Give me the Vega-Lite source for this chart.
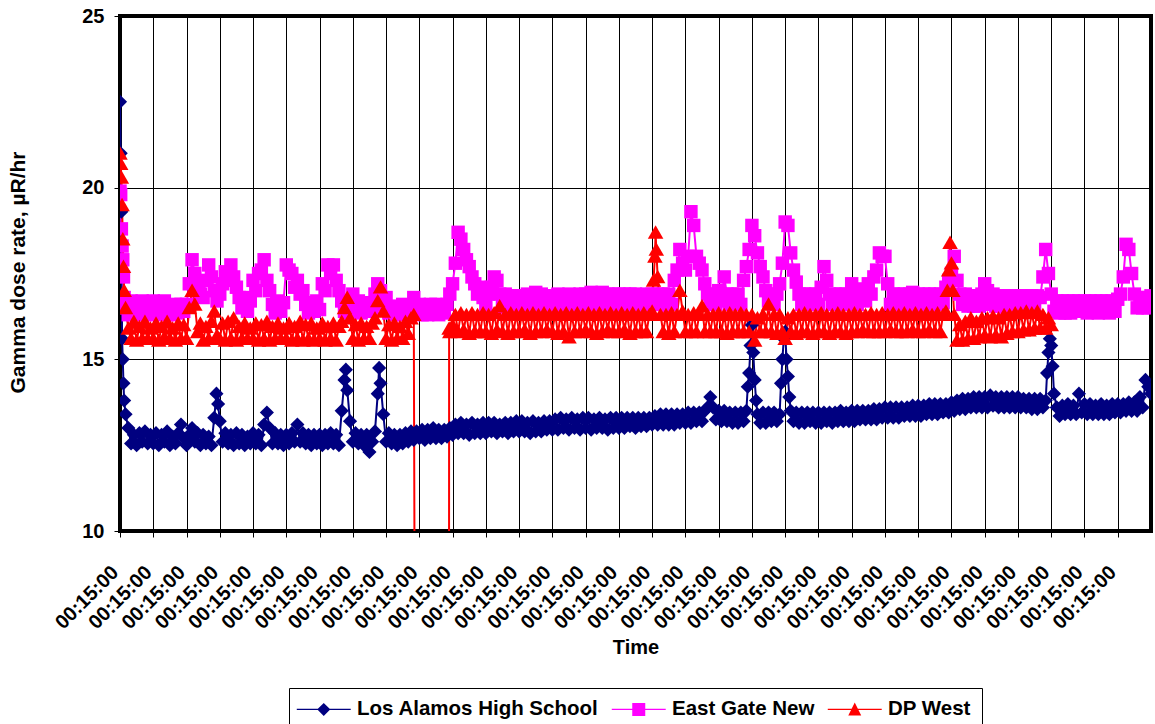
{
"$schema":"https://vega.github.io/schema/vega-lite/v6.json",
"width":1031,"height":515,"autosize":"none",
"padding":{"left":120,"top":16,"right":4,"bottom":193},
"background":"white",
"config":{"font":"Liberation Sans","view":{"stroke":"black","strokeWidth":4},
"axis":{"labelFont":"Liberation Sans","titleFont":"Liberation Sans","labelColor":"black","titleColor":"black","labelFontWeight":"bold","titleFontWeight":"bold","tickColor":"black","gridColor":"black","gridOpacity":1,"gridWidth":1,"domain":false}},
"data":{"values":[
{"h":0,"a":22.5,"b":19.9,"c":21.0},{"h":0.5,"a":21.0,"b":19.8,"c":20.7},{"h":1,"a":19.3,"b":18.8,"c":20.3},{"h":1.5,"a":15.6,"b":18.3,"c":19.5},{"h":2,"a":15.0,"b":17.9,"c":18.5},{"h":2.5,"a":14.3,"b":17.4,"c":17.7},{"h":3,"a":13.8,"b":16.8,"c":17.0},{"h":4,"a":13.4,"b":16.5,"c":16.5},{"h":6,"a":13.0,"b":16.3,"c":15.9},{"h":8,"a":12.55,"b":16.7,"c":15.6},{"h":10,"a":12.8,"b":16.3,"c":16.1},{"h":12,"a":12.5,"b":16.6,"c":15.55},{"h":14,"a":12.85,"b":16.4,"c":15.95},{"h":16,"a":12.6,"b":16.7,"c":15.6},{"h":18,"a":12.9,"b":16.3,"c":16.1},{"h":20,"a":12.55,"b":16.6,"c":15.6},{"h":22,"a":12.8,"b":16.35,"c":15.9},
{"h":24,"a":12.55,"b":16.7,"c":15.6},{"h":26,"a":12.85,"b":16.3,"c":16.05},{"h":28,"a":12.5,"b":16.65,"c":15.55},{"h":30,"a":12.8,"b":16.35,"c":15.95},{"h":32,"a":12.6,"b":16.7,"c":15.65},{"h":34,"a":12.9,"b":16.3,"c":16.1},{"h":36,"a":12.5,"b":16.55,"c":15.6},{"h":38,"a":12.75,"b":16.3,"c":15.9},{"h":40,"a":12.55,"b":16.6,"c":15.55},{"h":42,"a":12.85,"b":16.35,"c":16.05},{"h":44,"a":13.1,"b":16.6,"c":15.6},{"h":46,"a":12.7,"b":16.4,"c":16.0},
{"h":48,"a":12.5,"b":16.6,"c":15.6},{"h":50,"a":12.8,"b":17.2,"c":16.5},{"h":52,"a":13.0,"b":17.9,"c":17.0},{"h":54,"a":12.6,"b":17.5,"c":16.6},{"h":56,"a":12.85,"b":17.2,"c":15.8},{"h":58,"a":12.5,"b":16.9,"c":16.05},{"h":60,"a":12.8,"b":16.8,"c":15.55},{"h":62,"a":12.55,"b":17.3,"c":15.95},{"h":64,"a":12.75,"b":17.75,"c":15.6},{"h":66,"a":12.5,"b":17.4,"c":16.1},{"h":68,"a":13.3,"b":17.0,"c":16.4},{"h":69.6,"a":14.0},{"h":70,"b":16.7,"c":15.7},{"h":70.8,"a":13.7},
{"h":72,"a":13.2,"b":16.9,"c":15.6},{"h":74,"a":12.6,"b":17.2,"c":16.05},{"h":76,"a":12.85,"b":17.55,"c":15.55},{"h":78,"a":12.55,"b":17.3,"c":16.1},{"h":80,"a":12.8,"b":17.75,"c":15.6},{"h":82,"a":12.5,"b":17.4,"c":16.2},{"h":84,"a":12.85,"b":17.1,"c":15.55},{"h":86,"a":12.55,"b":16.8,"c":15.95},{"h":88,"a":12.8,"b":16.5,"c":15.6},{"h":90,"a":12.5,"b":16.8,"c":16.05},{"h":92,"a":12.75,"b":16.4,"c":15.6},{"h":94,"a":12.55,"b":16.7,"c":15.9},
{"h":96,"a":12.85,"b":17.3,"c":15.6},{"h":98,"a":12.55,"b":17.0,"c":16.05},{"h":100,"a":12.8,"b":17.5,"c":15.55},{"h":102,"a":12.5,"b":17.6,"c":16.0},{"h":104,"a":13.1,"b":17.9,"c":15.6},{"h":106,"a":13.45,"b":17.3,"c":16.1},{"h":108,"a":13.0,"b":17.0,"c":15.55},{"h":110,"a":12.55,"b":16.6,"c":15.95},{"h":112,"a":12.85,"b":16.35,"c":15.6},{"h":114,"a":12.55,"b":16.7,"c":16.05},{"h":116,"a":12.8,"b":16.4,"c":15.6},{"h":118,"a":12.5,"b":16.65,"c":15.9},
{"h":120,"a":12.8,"b":17.75,"c":15.6},{"h":122,"a":12.55,"b":17.6,"c":16.05},{"h":124,"a":12.85,"b":17.5,"c":15.55},{"h":126,"a":12.6,"b":17.1,"c":15.95},{"h":128,"a":13.1,"b":17.3,"c":15.6},{"h":130,"a":12.6,"b":16.9,"c":16.1},{"h":132,"a":12.85,"b":17.0,"c":15.55},{"h":134,"a":12.55,"b":16.6,"c":16.0},{"h":136,"a":12.8,"b":16.35,"c":15.6},{"h":138,"a":12.5,"b":16.65,"c":16.05},{"h":140,"a":12.8,"b":16.4,"c":15.55},{"h":142,"a":12.55,"b":16.7,"c":15.9},
{"h":144,"a":12.8,"b":16.45,"c":15.6},{"h":146,"a":12.5,"b":17.2,"c":16.05},{"h":148,"a":12.8,"b":17.0,"c":15.55},{"h":150,"a":12.55,"b":17.75,"c":15.95},{"h":152,"a":12.85,"b":17.5,"c":15.6},{"h":154,"a":12.55,"b":17.75,"c":16.05},{"h":156,"a":12.8,"b":17.3,"c":15.55},{"h":158,"a":12.5,"b":17.0,"c":15.95},{"h":160,"a":13.5,"b":16.7,"c":16.1},{"h":162,"a":14.4,"b":16.4,"c":16.5},{"h":163,"a":14.7},{"h":164,"a":14.1,"b":16.6,"c":16.8},{"h":166,"a":13.2,"b":16.35,"c":16.2},
{"h":168,"a":12.6,"b":16.9,"c":15.6},{"h":170,"a":12.85,"b":16.5,"c":16.0},{"h":172,"a":12.55,"b":16.7,"c":15.55},{"h":174,"a":12.8,"b":16.35,"c":16.05},{"h":176,"a":12.5,"b":16.6,"c":15.6},{"h":178,"a":12.8,"b":16.4,"c":15.95},{"h":180,"a":12.3,"b":16.65,"c":15.6},{"h":182,"a":12.6,"b":16.4,"c":16.05},{"h":184,"a":12.9,"b":16.9,"c":16.2},{"h":186,"a":14.0,"b":17.2,"c":16.7},{"h":187,"a":14.75},{"h":188,"a":14.3,"b":17.0,"c":17.1},{"h":190,"a":13.4,"b":16.6,"c":16.4},
{"h":192,"a":12.6,"b":16.8,"c":15.6},{"h":194,"a":12.85,"b":16.35,"c":16.0},{"h":196,"a":12.55,"b":16.5,"c":15.55},{"h":198,"a":12.8,"b":16.3,"c":16.05},{"h":200,"a":12.5,"b":16.55,"c":15.6},{"h":202,"a":12.8,"b":16.3,"c":15.95},{"h":204,"a":12.55,"b":16.6,"c":15.6},{"h":206,"a":12.85,"b":16.35,"c":16.1},{"h":208,"a":12.6,"b":16.55,"c":15.75},{"h":210,"a":12.9,"b":16.35,"c":16.2},{"h":212,"a":12.65,"b":16.8,"c":16.3},{"h":213.2,"c":0},{"h":214,"a":12.9,"b":16.5,"c":0},
{"h":216,"a":12.7,"b":16.6,"c":0},{"h":218,"a":12.95,"b":16.3,"c":0},{"h":220,"a":12.65,"b":16.55,"c":0},{"h":222,"a":12.95,"b":16.3,"c":0},{"h":224,"a":12.7,"b":16.6,"c":0},{"h":226,"a":13.0,"b":16.35,"c":0},{"h":228,"a":12.7,"b":16.6,"c":0},{"h":230,"a":12.95,"b":16.3,"c":0},{"h":232,"a":12.7,"b":16.55,"c":0},{"h":234,"a":12.95,"b":16.35,"c":0},{"h":236,"a":12.75,"b":16.6,"c":0},{"h":237.4,"c":0},{"h":237.5,"c":15.9},{"h":238,"a":13.0,"b":16.9,"c":15.8},
{"h":240,"a":12.8,"b":17.2,"c":16.0},{"h":242,"a":13.1,"b":17.8,"c":16.3},{"h":244,"a":12.85,"b":18.7,"c":15.8},{"h":246,"a":13.15,"b":18.5,"c":16.35},{"h":248,"a":12.85,"b":18.2,"c":15.85},{"h":250,"a":13.1,"b":17.9,"c":16.3},{"h":252,"a":12.8,"b":17.7,"c":15.75},{"h":254,"a":13.15,"b":17.4,"c":16.35},{"h":256,"a":12.85,"b":17.2,"c":15.8},{"h":258,"a":13.1,"b":16.9,"c":16.3},{"h":260,"a":12.85,"b":17.1,"c":15.8},{"h":262,"a":13.15,"b":16.8,"c":16.35},
{"h":264,"a":12.85,"b":16.55,"c":15.8},{"h":266,"a":13.15,"b":16.9,"c":16.3},{"h":268,"a":12.9,"b":17.1,"c":15.75},{"h":270,"a":13.15,"b":17.4,"c":16.35},{"h":272,"a":12.85,"b":17.3,"c":15.85},{"h":274,"a":13.1,"b":16.9,"c":16.55},{"h":276,"a":12.9,"b":16.55,"c":15.8},{"h":278,"a":13.15,"b":16.9,"c":16.3},{"h":280,"a":12.85,"b":16.5,"c":15.75},{"h":282,"a":13.15,"b":16.85,"c":16.35},{"h":284,"a":12.9,"b":16.5,"c":15.8},{"h":286,"a":13.2,"b":16.85,"c":16.3},
{"h":288,"a":12.9,"b":16.5,"c":15.8},{"h":290,"a":13.2,"b":16.85,"c":16.35},{"h":292,"a":12.9,"b":16.5,"c":15.85},{"h":294,"a":13.15,"b":16.9,"c":16.3},{"h":296,"a":12.85,"b":16.55,"c":15.75},{"h":298,"a":13.2,"b":16.85,"c":16.35},{"h":300,"a":12.9,"b":16.95,"c":15.8},{"h":302,"a":13.15,"b":16.55,"c":16.3},{"h":304,"a":12.9,"b":16.9,"c":15.8},{"h":306,"a":13.2,"b":16.5,"c":16.35},{"h":308,"a":12.95,"b":16.85,"c":15.85},{"h":310,"a":13.2,"b":16.5,"c":16.3},
{"h":312,"a":12.95,"b":16.85,"c":15.8},{"h":314,"a":13.25,"b":16.5,"c":16.35},{"h":316,"a":12.95,"b":16.9,"c":15.75},{"h":318,"a":13.3,"b":16.55,"c":16.3},{"h":320,"a":13.0,"b":16.85,"c":15.8},{"h":322,"a":13.25,"b":16.5,"c":16.35},{"h":324,"a":12.95,"b":16.9,"c":15.65},{"h":326,"a":13.3,"b":16.55,"c":16.3},{"h":328,"a":13.0,"b":16.85,"c":15.8},{"h":330,"a":13.25,"b":16.5,"c":16.35},{"h":332,"a":12.95,"b":16.9,"c":15.8},{"h":334,"a":13.3,"b":16.55,"c":16.3},
{"h":336,"a":13.0,"b":16.9,"c":15.85},{"h":338,"a":13.3,"b":16.55,"c":16.35},{"h":340,"a":12.95,"b":16.95,"c":15.8},{"h":342,"a":13.25,"b":16.6,"c":16.3},{"h":344,"a":13.0,"b":16.9,"c":15.75},{"h":346,"a":13.3,"b":16.55,"c":16.35},{"h":348,"a":13.0,"b":16.95,"c":15.8},{"h":350,"a":13.25,"b":16.6,"c":16.3},{"h":352,"a":12.95,"b":16.9,"c":15.85},{"h":354,"a":13.3,"b":16.55,"c":16.35},{"h":356,"a":13.0,"b":16.9,"c":15.8},{"h":358,"a":13.3,"b":16.6,"c":16.3},
{"h":360,"a":13.0,"b":16.9,"c":15.8},{"h":362,"a":13.3,"b":16.55,"c":16.35},{"h":364,"a":13.0,"b":16.9,"c":15.85},{"h":366,"a":13.3,"b":16.6,"c":16.3},{"h":368,"a":13.05,"b":16.9,"c":15.75},{"h":370,"a":13.3,"b":16.55,"c":16.35},{"h":372,"a":13.0,"b":16.9,"c":15.8},{"h":374,"a":13.3,"b":16.6,"c":16.3},{"h":376,"a":13.05,"b":16.85,"c":15.8},{"h":378,"a":13.3,"b":16.55,"c":16.35},{"h":380,"a":13.05,"b":16.9,"c":15.8},{"h":382,"a":13.3,"b":16.6,"c":16.3},
{"h":384,"a":13.1,"b":16.9,"c":16.4},{"h":385,"c":17.3},{"h":386,"a":13.35,"b":16.6,"c":18.0},{"h":386.5,"c":18.7},{"h":387,"c":18.2},{"h":388,"a":13.1,"b":16.9,"c":17.4},{"h":390,"a":13.4,"b":16.6,"c":16.3},{"h":392,"a":13.1,"b":16.9,"c":15.8},{"h":394,"a":13.4,"b":16.55,"c":16.3},{"h":396,"a":13.1,"b":16.9,"c":15.75},{"h":398,"a":13.4,"b":16.6,"c":16.35},{"h":400,"a":13.1,"b":17.3,"c":15.8},{"h":402,"a":13.4,"b":17.6,"c":16.3},{"h":404,"a":13.15,"b":18.2,"c":17.0},{"h":406,"a":13.4,"b":17.8,"c":16.4},
{"h":408,"a":13.15,"b":17.6,"c":15.8},{"h":410,"a":13.45,"b":18.0,"c":16.3},{"h":412,"a":13.15,"b":19.3,"c":15.8},{"h":414,"a":13.45,"b":18.9,"c":16.35},{"h":416,"a":13.2,"b":18.0,"c":15.8},{"h":418,"a":13.45,"b":17.8,"c":16.3},{"h":420,"a":13.2,"b":17.6,"c":16.55},{"h":422,"a":13.5,"b":17.2,"c":15.8},{"h":424,"a":13.6,"b":16.9,"c":16.3},{"h":426,"a":13.9,"b":16.6,"c":15.8},{"h":428,"a":13.6,"b":16.9,"c":16.3},{"h":430,"a":13.25,"b":16.6,"c":15.8},
{"h":432,"a":13.5,"b":17.0,"c":16.35},{"h":434,"a":13.2,"b":16.7,"c":15.8},{"h":436,"a":13.5,"b":17.4,"c":16.3},{"h":438,"a":13.2,"b":16.9,"c":15.75},{"h":440,"a":13.45,"b":16.6,"c":16.35},{"h":442,"a":13.15,"b":16.9,"c":15.8},{"h":444,"a":13.45,"b":16.6,"c":16.3},{"h":446,"a":13.15,"b":16.9,"c":15.8},{"h":448,"a":13.45,"b":16.6,"c":16.35},{"h":450,"a":13.2,"b":17.3,"c":15.8},{"h":452,"a":13.5,"b":17.7,"c":16.3},{"h":453,"a":14.2},{"h":454,"a":14.6,"b":18.2,"c":15.8},{"h":455,"a":15.4},
{"h":456,"a":16.0,"b":18.9,"c":16.3},{"h":457,"a":15.2},{"h":458,"a":14.4,"b":18.6,"c":15.55},{"h":459,"a":13.8},{"h":460,"a":13.4,"b":18.1,"c":16.2},{"h":462,"a":13.15,"b":17.7,"c":15.8},{"h":464,"a":13.45,"b":17.4,"c":16.3},{"h":466,"a":13.15,"b":17.0,"c":15.8},{"h":468,"a":13.45,"b":16.7,"c":16.6},{"h":470,"a":13.2,"b":16.9,"c":15.8},{"h":472,"a":13.45,"b":16.6,"c":16.3},{"h":474,"a":13.2,"b":16.9,"c":15.75},{"h":476,"a":13.4,"b":17.2,"c":16.3},{"h":477,"a":14.3},{"h":478,"a":15.0,"b":17.8,"c":15.8},{"h":479,"a":15.6},
{"h":480,"a":15.8,"b":19.0,"c":15.6},{"h":481,"a":15.0},{"h":482,"a":14.5,"b":18.9,"c":16.2},{"h":483,"a":13.9},{"h":484,"a":13.5,"b":18.1,"c":15.8},{"h":486,"a":13.2,"b":17.6,"c":16.3},{"h":488,"a":13.45,"b":17.25,"c":15.75},{"h":490,"a":13.15,"b":16.9,"c":16.3},{"h":492,"a":13.45,"b":16.6,"c":15.8},{"h":494,"a":13.15,"b":16.9,"c":16.35},{"h":496,"a":13.45,"b":16.6,"c":15.8},{"h":498,"a":13.2,"b":16.9,"c":16.3},{"h":500,"a":13.45,"b":16.6,"c":15.75},{"h":502,"a":13.15,"b":16.9,"c":16.3},
{"h":504,"a":13.45,"b":16.6,"c":15.8},{"h":506,"a":13.15,"b":17.1,"c":16.35},{"h":508,"a":13.45,"b":17.7,"c":15.8},{"h":510,"a":13.2,"b":17.3,"c":16.3},{"h":512,"a":13.45,"b":16.9,"c":15.75},{"h":514,"a":13.15,"b":16.6,"c":16.3},{"h":516,"a":13.45,"b":16.9,"c":15.8},{"h":518,"a":13.2,"b":16.6,"c":16.35},{"h":520,"a":13.5,"b":16.9,"c":15.8},{"h":522,"a":13.2,"b":16.6,"c":16.3},{"h":524,"a":13.45,"b":16.9,"c":15.75},{"h":526,"a":13.2,"b":16.6,"c":16.3},
{"h":528,"a":13.5,"b":17.2,"c":15.8},{"h":530,"a":13.2,"b":16.8,"c":16.35},{"h":532,"a":13.5,"b":16.6,"c":15.8},{"h":534,"a":13.25,"b":16.9,"c":16.3},{"h":536,"a":13.5,"b":17.05,"c":15.85},{"h":538,"a":13.25,"b":16.7,"c":16.3},{"h":540,"a":13.5,"b":17.2,"c":15.8},{"h":542,"a":13.25,"b":16.9,"c":16.35},{"h":544,"a":13.55,"b":17.4,"c":15.8},{"h":546,"a":13.25,"b":17.6,"c":16.3},{"h":548,"a":13.55,"b":18.1,"c":15.8},{"h":550,"a":13.3,"b":18.0,"c":16.35},
{"h":552,"a":13.6,"b":18.0,"c":15.8},{"h":554,"a":13.3,"b":17.2,"c":16.3},{"h":556,"a":13.6,"b":16.6,"c":15.85},{"h":558,"a":13.3,"b":16.9,"c":16.35},{"h":560,"a":13.6,"b":16.55,"c":15.8},{"h":562,"a":13.3,"b":16.9,"c":16.3},{"h":564,"a":13.6,"b":16.6,"c":15.8},{"h":566,"a":13.35,"b":16.9,"c":16.35},{"h":568,"a":13.6,"b":16.55,"c":15.8},{"h":570,"a":13.35,"b":16.9,"c":16.3},{"h":572,"a":13.65,"b":16.95,"c":15.85},{"h":574,"a":13.35,"b":16.6,"c":16.35},
{"h":576,"a":13.65,"b":16.9,"c":15.8},{"h":578,"a":13.35,"b":16.55,"c":16.3},{"h":580,"a":13.65,"b":16.9,"c":15.8},{"h":582,"a":13.4,"b":16.6,"c":16.35},{"h":584,"a":13.7,"b":16.9,"c":15.85},{"h":586,"a":13.4,"b":16.55,"c":16.3},{"h":588,"a":13.7,"b":16.9,"c":15.8},{"h":590,"a":13.4,"b":16.6,"c":16.35},{"h":592,"a":13.7,"b":16.9,"c":15.8},{"h":594,"a":13.45,"b":16.65,"c":16.3},{"h":596,"a":13.7,"b":17.1,"c":16.4},{"h":597,"c":17.0},{"h":598,"a":13.45,"b":17.3,"c":17.6},{"h":599,"c":18.4},
{"h":600,"a":13.75,"b":17.5,"c":17.8},{"h":601,"c":17.0},{"h":602,"a":13.5,"b":18.0,"c":16.3},{"h":604,"a":13.8,"b":17.3,"c":15.55},{"h":606,"a":13.55,"b":16.9,"c":16.0},{"h":608,"a":13.85,"b":16.6,"c":15.55},{"h":610,"a":13.55,"b":16.9,"c":16.1},{"h":612,"a":13.85,"b":16.55,"c":15.6},{"h":614,"a":13.6,"b":16.85,"c":16.2},{"h":616,"a":13.9,"b":16.55,"c":15.6},{"h":618,"a":13.6,"b":16.85,"c":16.1},{"h":620,"a":13.9,"b":16.55,"c":15.65},{"h":622,"a":13.6,"b":16.9,"c":16.2},
{"h":624,"a":13.9,"b":17.2,"c":15.7},{"h":626,"a":13.6,"b":17.0,"c":16.2},{"h":628,"a":13.95,"b":16.6,"c":15.65},{"h":630,"a":13.65,"b":16.9,"c":16.25},{"h":632,"a":13.9,"b":16.55,"c":15.7},{"h":634,"a":13.6,"b":16.85,"c":16.2},{"h":636,"a":13.9,"b":16.55,"c":15.65},{"h":638,"a":13.6,"b":16.85,"c":16.3},{"h":640,"a":13.9,"b":16.5,"c":15.75},{"h":642,"a":13.6,"b":16.85,"c":16.3},{"h":644,"a":13.9,"b":16.55,"c":15.8},{"h":646,"a":13.6,"b":16.85,"c":16.35},
{"h":648,"a":13.9,"b":16.5,"c":15.8},{"h":650,"a":13.6,"b":16.85,"c":16.35},{"h":652,"a":13.85,"b":16.55,"c":15.85},{"h":654,"a":13.6,"b":16.85,"c":16.4},{"h":656,"a":13.85,"b":16.5,"c":15.85},{"h":658,"a":13.55,"b":16.85,"c":16.35},{"h":660,"a":13.85,"b":16.55,"c":15.9},{"h":662,"a":13.55,"b":16.85,"c":16.4},{"h":664,"a":13.85,"b":16.8,"c":15.9},{"h":666,"a":13.6,"b":17.4,"c":16.3},{"h":668,"a":13.8,"b":18.2,"c":15.9},{"h":669,"a":14.6},{"h":670,"a":15.2,"b":17.5,"c":16.2},{"h":671,"a":15.6},
{"h":672,"a":15.4,"b":16.9,"c":16.0},{"h":673,"a":14.8},{"h":674,"a":14.0,"b":16.4},{"h":676,"a":13.6,"b":16.7},{"h":678,"a":13.35,"b":16.35},{"h":680,"a":13.65,"b":16.7},{"h":682,"a":13.4,"b":16.35},{"h":684,"a":13.7,"b":16.7},{"h":686,"a":13.4,"b":16.35},{"h":688,"a":13.65,"b":16.7},{"h":690,"a":13.4,"b":16.4},{"h":692,"a":14.0,"b":16.7},{"h":694,"a":13.45,"b":16.4},
{"h":696,"a":13.7,"b":16.7},{"h":698,"a":13.4,"b":16.35},{"h":700,"a":13.7,"b":16.7},{"h":702,"a":13.4,"b":16.4},{"h":704,"a":13.65,"b":16.7},{"h":706,"a":13.4,"b":16.35},{"h":708,"a":13.7,"b":16.7},{"h":710,"a":13.4,"b":16.4},{"h":712,"a":13.65,"b":16.7},{"h":714,"a":13.4,"b":16.35},{"h":716,"a":13.7,"b":16.7},{"h":718,"a":13.45,"b":16.4},
{"h":720,"a":13.7,"b":16.75},{"h":722,"a":13.45,"b":16.9},{"h":724,"a":13.7,"b":17.4},{"h":726,"a":13.5,"b":18.35},{"h":728,"a":13.75,"b":18.2},{"h":730,"a":13.5,"b":17.5},{"h":732,"a":13.75,"b":16.9},{"h":734,"a":13.5,"b":16.5},{"h":736,"a":13.9,"b":16.8},{"h":738,"a":13.6,"b":16.5},{"h":740,"a":14.4,"b":16.8},{"h":742,"a":14.2,"b":16.5},{"h":744,"a":14.0,"b":16.85}
]},
"transform":[{"fold":["a","b","c"],"as":["k","v"]},{"filter":"isValid(datum.v)"}],
"encoding":{
"x":{"field":"h","type":"quantitative","scale":{"domain":[0,744],"nice":false,"zero":false},
"axis":{"values":[0,24,48,72,96,120,144,168,192,216,240,264,288,312,336,360,384,408,432,456,480,504,528,552,576,600,624,648,672,696,720],"labelExpr":"'00:15:00'","labelAngle":-45,"labelAlign":"right","labelBaseline":"middle","labelFontSize":20,"labelPadding":32,"labelOffset":-5,"tickSize":6,"labelOverlap":false,"labelFlush":false,"labelBound":false,"grid":true,"title":"Time","titleFontSize":20,"titleY":116,"titleBaseline":"middle"}},
"y":{"field":"v","type":"quantitative","scale":{"domain":[10,25],"nice":false,"zero":false},
"axis":{"values":[10,15,20,25],"labelFontSize":20,"labelPadding":10,"tickSize":6,"grid":true,"title":"Gamma dose rate, µR/hr","titleFontSize":21,"titleAngle":-90,"titleX":-102,"titleY":256,"titleAlign":"center","titleBaseline":"middle"}},
"color":{"field":"k","type":"nominal","scale":{"domain":["a","b","c"],"range":["#000080","#FF00FF","#FF0000"]},
"legend":{"orient":"none","legendX":169,"legendY":672,"direction":"horizontal","title":null,"padding":11,"strokeColor":"black","fillColor":"white","labelFont":"Liberation Sans","labelFontSize":20.5,"labelFontWeight":"bold","labelColor":"black","labelLimit":400,"labelOffset":23,"symbolOffset":13.5,"columnPadding":12,"symbolSize":169,"symbolStrokeWidth":0,
"labelExpr":"datum.value=='a'?'Los Alamos High School':datum.value=='b'?'East Gate New':'DP West'"}}
},
"layer":[
{"mark":{"type":"line","strokeWidth":2,"clip":true}},
{"transform":[{"filter":"datum.k=='a'"}],"mark":{"type":"point","filled":true,"shape":"M0,-1L1,0L0,1L-1,0Z","size":200,"opacity":1,"strokeWidth":0,"clip":true}},
{"transform":[{"filter":"datum.k=='b'"}],"mark":{"type":"point","filled":true,"shape":"M-0.95,-0.95H0.95V0.95H-0.95Z","size":200,"opacity":1,"strokeWidth":0,"clip":true}},
{"transform":[{"filter":"datum.k=='c'"}],"mark":{"type":"point","filled":true,"shape":"M0,-1L1.1,0.9H-1.1Z","size":200,"opacity":1,"strokeWidth":0,"clip":true}},
{"transform":[{"filter":"false"}],"mark":{"type":"point","filled":true,"opacity":1,"strokeWidth":0},
"encoding":{"shape":{"field":"k","type":"nominal","scale":{"domain":["a","b","c"],"range":[
"M-4.15,-0.09L-0.91,-0.09L0,-1L0.91,-0.09L4.15,-0.09L4.15,0.09L0.91,0.09L0,1L-0.91,0.09L-4.15,0.09Z",
"M-4.15,-0.09L-1,-0.09L-1,-1L1,-1L1,-0.09L4.15,-0.09L4.15,0.09L1,0.09L1,1L-1,1L-1,0.09L-4.15,0.09Z",
"M-4.15,-0.09L-0.48,-0.09L0,-1.05L0.48,-0.09L4.15,-0.09L4.15,0.09L0.57,0.09L1,0.95L-1,0.95L-0.57,0.09L-4.15,0.09Z"]},
"legend":{"orient":"none","legendX":169,"legendY":672,"direction":"horizontal","title":null,"padding":11,"strokeColor":"black","fillColor":"white","labelFont":"Liberation Sans","labelFontSize":20.5,"labelFontWeight":"bold","labelColor":"black","labelLimit":400,"labelOffset":23,"symbolOffset":13.5,"columnPadding":12,"symbolSize":169,"symbolStrokeWidth":0,
"labelExpr":"datum.value=='a'?'Los Alamos High School':datum.value=='b'?'East Gate New':'DP West'"}}}}
]
}
